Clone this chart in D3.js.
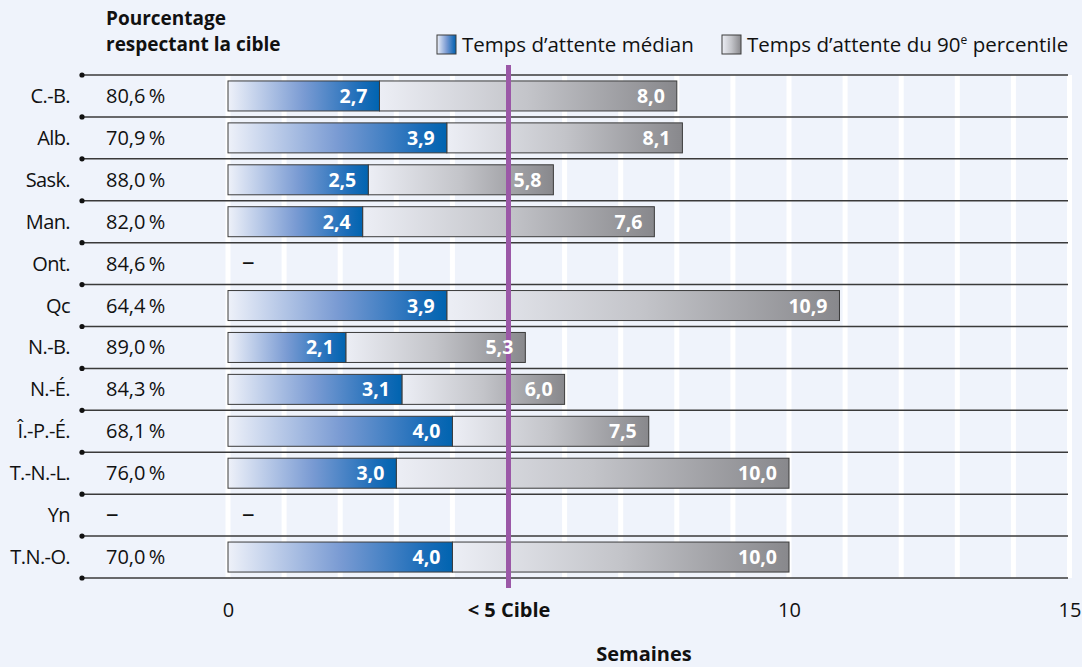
<!DOCTYPE html>
<html>
<head>
<meta charset="utf-8">
<script src="https://cdn.jsdelivr.net/npm/d3@7"></script>
<style>
  html, body { margin: 0; padding: 0; background: #eff3fb; }
  svg { display: block; font-family: "Open Sans", Lato, sans-serif; }
</style>
</head>
<body>
<svg id="chart" width="1082" height="667"></svg>
<script>
// Provinces et territoires
const regions = ["C.-B.", "Alb.", "Sask.", "Man.", "Ont.", "Qc", "N.-B.", "N.-É.", "Î.-P.-É.", "T.-N.-L.", "Yn", "T.N.-O."];
// Pourcentage respectant la cible (null = non disponible)
const pctTarget = [80.6, 70.9, 88.0, 82.0, 84.6, 64.4, 89.0, 84.3, 68.1, 76.0, null, 70.0];
// Temps d'attente médian (semaines)
const medianWait = [2.7, 3.9, 2.5, 2.4, null, 3.9, 2.1, 3.1, 4.0, 3.0, null, 4.0];
// Temps d'attente du 90e percentile (semaines)
const p90Wait = [8.0, 8.1, 5.8, 7.6, null, 10.9, 5.3, 6.0, 7.5, 10.0, null, 10.0];
// Graduations de l'axe des x
const xTicks = [0, 5, 10, 15];
const xTickLabels = ["0", "< 5 Cible", "10", "15"];
const targetWeeks = 5;

const fmt = v => d3.format(".1f")(v).replace(".", ",");
const FS = 20;

const svg = d3.select("#chart");
const defs = svg.append("defs");

const blueGrad = defs.append("linearGradient").attr("id", "gBlue");
[[0, "#eef1f9"], [0.5, "#7a9bd3"], [0.88, "#1a6cb8"], [1, "#0064b0"]]
  .forEach(([o, c]) => blueGrad.append("stop").attr("offset", o).attr("stop-color", c));
const grayGrad = defs.append("linearGradient").attr("id", "gGray");
[[0, "#eceef5"], [0.5, "#c3c4c9"], [1, "#88888c"]]
  .forEach(([o, c]) => grayGrad.append("stop").attr("offset", o).attr("stop-color", c));

const x = d3.scaleLinear().domain([0, 15]).range([228, 1069.5]);
const y = d3.scaleBand().domain(regions).range([75, 578]).paddingInner(0).paddingOuter(0);
const barH = 30;

// Vertical white grid lines at every week
svg.append("g").selectAll("line")
  .data(d3.range(0, 16))
  .join("line")
  .attr("x1", d => x(d)).attr("x2", d => x(d))
  .attr("y1", y.range()[0]).attr("y2", y.range()[1])
  .attr("stroke", "#ffffff").attr("stroke-width", 5);

// Row separators with a dot at the left end
const seps = d3.range(0, regions.length + 1).map(i => y.range()[0] + i * y.step());
const sepG = svg.append("g");
sepG.selectAll("line").data(seps).join("line")
  .attr("x1", 82).attr("x2", 1068)
  .attr("y1", d => d).attr("y2", d => d)
  .attr("stroke", "#3a3a3a").attr("stroke-width", 1.5);
sepG.selectAll("circle").data(seps).join("circle")
  .attr("cx", 82).attr("cy", d => d).attr("r", 2.6).attr("fill", "#111");

// Bars: median segment then the remainder up to the 90th percentile
const rows = regions.map((r, i) => ({ r, pct: pctTarget[i], med: medianWait[i], p90: p90Wait[i] }));
const barG = svg.append("g");
rows.filter(d => d.med != null).forEach(d => {
  const yy = y(d.r) + (y.bandwidth() - barH) / 2;
  barG.append("rect")
    .attr("x", x(d.med)).attr("y", yy)
    .attr("width", x(d.p90) - x(d.med)).attr("height", barH)
    .attr("fill", "url(#gGray)").attr("stroke", "#3c3c3c").attr("stroke-width", 1);
  barG.append("rect")
    .attr("x", x(0)).attr("y", yy)
    .attr("width", x(d.med) - x(0)).attr("height", barH)
    .attr("fill", "url(#gBlue)").attr("stroke", "#3c3c3c").attr("stroke-width", 1);
});

// Target line at 5 weeks
svg.append("line")
  .attr("x1", x(targetWeeks)).attr("x2", x(targetWeeks))
  .attr("y1", 65).attr("y2", 588)
  .attr("stroke", "#9b58a7").attr("stroke-width", 5);

// Value labels inside the bars
const lblG = svg.append("g")
  .attr("font-weight", 700).attr("font-size", 19.5).attr("fill", "#ffffff")
  .attr("text-anchor", "end");
rows.filter(d => d.med != null).forEach(d => {
  const cy = y(d.r) + y.bandwidth() / 2 + 7;
  lblG.append("text").attr("x", x(d.med) - 12).attr("y", cy).text(fmt(d.med));
  lblG.append("text").attr("x", x(d.p90) - 12).attr("y", cy).text(fmt(d.p90));
});

// Dashes where no data is available
svg.append("g").selectAll("text")
  .data(rows.filter(d => d.med == null))
  .join("text")
  .attr("x", 242).attr("y", d => y(d.r) + y.bandwidth() / 2 + 6.5)
  .attr("font-size", 25).attr("fill", "#111").text("–");

// Region names and percentage respecting the target
const leftG = svg.append("g").attr("font-size", FS).attr("fill", "#111");
leftG.selectAll("text.reg").data(rows).join("text")
  .attr("class", "reg")
  .attr("x", 70).attr("y", d => y(d.r) + y.bandwidth() / 2 + 7)
  .attr("text-anchor", "end")
  .attr("letter-spacing", -0.6)
  .text(d => d.r);
leftG.selectAll("text.pct").data(rows).join("text")
  .attr("class", "pct")
  .attr("x", 106).attr("y", d => y(d.r) + y.bandwidth() / 2 + (d.pct == null ? 6.5 : 7))
  .attr("font-size", d => d.pct == null ? 25 : FS)
  .text(d => d.pct == null ? "–" : fmt(d.pct) + "\u2009%");

// Column header (two lines)
const hdrLines = ["Pourcentage", "respectant la cible"];
svg.append("g").selectAll("text").data(hdrLines).join("text")
  .attr("x", 106).attr("y", (d, i) => 24.5 + i * 26)
  .attr("font-size", 19).attr("font-weight", 700).attr("fill", "#111")
  .text(d => d);

// X axis labels
const axis = d3.axisBottom(x).tickValues(xTicks).tickSize(0)
  .tickFormat((d, i) => xTickLabels[i]);
const axG = svg.append("g").attr("transform", "translate(0,600)").call(axis);
axG.select(".domain").remove();
axG.selectAll("text")
  .attr("font-family", "'Open Sans', sans-serif").attr("font-size", FS).attr("fill", "#111")
  .attr("dy", 0).attr("y", 17)
  .attr("font-weight", d => d === targetWeeks ? 700 : 400);

svg.append("text").attr("x", 644).attr("y", 661).attr("text-anchor", "middle")
  .attr("font-size", FS).attr("font-weight", 700).attr("fill", "#111").text("Semaines");

// Legend
const legend = [
  { fill: "url(#gBlue)", x: 437 },
  { fill: "url(#gGray)", x: 722 }
];
legend.forEach(l => {
  svg.append("rect").attr("x", l.x).attr("y", 35).attr("width", 19).attr("height", 19)
    .attr("fill", l.fill).attr("stroke", "#3c3c3c").attr("stroke-width", 1);
});
svg.append("text").attr("x", 462).attr("y", 52).attr("font-size", 20.5).attr("fill", "#111")
  .text("Temps d\u2019attente médian");
const l2 = svg.append("text").attr("x", 747).attr("y", 52).attr("font-size", 20.5).attr("fill", "#111");
l2.append("tspan").text("Temps d\u2019attente du 90");
l2.append("tspan").attr("dy", -8).attr("font-size", 12).text("e");
l2.append("tspan").attr("dy", 8).text(" percentile");
</script>
</body>
</html>
